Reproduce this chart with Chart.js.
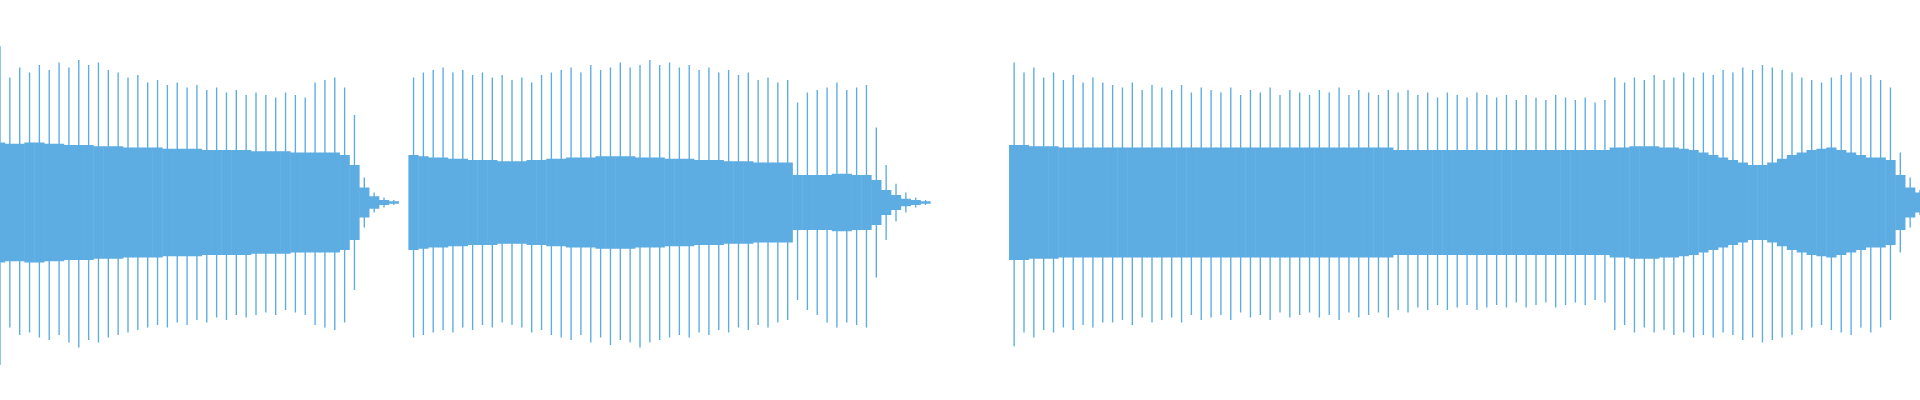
<!DOCTYPE html>
<html>
<head>
<meta charset="utf-8">
<script src="https://cdn.jsdelivr.net/npm/chart.js@4"></script>
<style>
  html, body { margin: 0; padding: 0; background: #fff; }
  #wrap { width: 1920px; height: 400px; }
</style>
</head>
<body>
<div id="wrap"><canvas id="wave"></canvas></div>
<script>
// waveform envelope, one column per slice, amplitudes around the centre line
const peakTop = [
  125,100,108,104,110,106,112,108,114,110,112,106,104,100,102,96,98,94,96,92,94,90,92,88,90,86,88,86,84,88,86,84,96,98,100,92,70,
  20,8,4,2, 0,
  100,104,106,108,104,106,102,104,100,102,98,100,96,102,104,106,108,104,110,106,108,112,108,110,114,110,112,108,110,106,108,104,106,102,104,98,100,96,
  98,80,88,90,92,96,90,92,94,
  60,30,15,8,4,2, 0,0,0,0,0,0,0, 0,
  112,104,108,100,104,98,102,96,100,96,
  94,92,96,90,94,92,90,94,88,92,90,88,92,86,90,88,92,86,90,88,86,90,88,92,86,90,88,86,90,
  88,90,86,88,84,88,86,84,88,86,84,86,82,86,84,82,86,84,82,84,80,82,
  100,96,100,98,102,98,100,104,100,104,102,106,104,108,106,110,108,106,104,100,98,96,100,102,104,100,102,98,92,
  40,20,10
];
const peakBottom = [
  130,100,106,104,108,110,106,112,116,110,112,108,106,104,102,100,98,100,96,98,94,96,92,94,90,92,90,88,90,86,88,90,98,100,102,96,70,
  20,8,4,2, 0,
  108,106,104,102,104,100,102,98,100,96,98,100,104,102,106,108,110,106,112,108,114,110,112,116,112,110,108,106,108,104,106,102,104,100,102,98,100,96,
  94,78,86,90,96,100,96,98,100,
  60,30,15,8,4,2, 0,0,0,0,0,0,0, 0,
  115,104,108,102,104,100,102,98,100,96,
  96,94,98,92,96,94,92,96,90,94,92,90,94,88,92,90,94,88,92,90,88,92,90,94,88,92,90,88,92,
  86,88,84,86,82,86,84,82,86,84,82,84,80,84,82,80,84,82,80,82,78,80,
  102,98,104,100,104,102,106,104,108,106,108,104,106,110,108,112,110,108,106,102,100,98,102,104,106,100,104,100,94,
  40,20,10
];
const coreAmp = [
  48,47,47,48,48,47,47,46,46,46,45,45,45,44,44,44,44,43,43,43,43,42,42,42,42,42,41,41,41,41,40,40,40,40,40,38,30,
  12,5,2,1, 0,
  38,37,36,36,35,35,34,34,34,33,33,33,34,34,35,35,36,36,36,37,37,37,37,36,36,36,35,35,35,34,34,34,33,33,33,32,32,32,
  32,22,22,22,22,23,23,22,22,
  18,10,6,3,2,1, 0,0,0,0,0,0,0, 0,
  46,46,45,45,45,44,44,44,44,44,
  44,44,44,44,44,44,44,44,44,44,44,44,44,44,44,44,44,44,44,44,44,44,44,44,44,44,44,44,44,
  42,42,42,42,42,42,42,42,42,42,42,42,42,42,42,42,42,42,42,42,42,42,
  44,44,45,45,45,44,44,43,42,40,38,36,34,32,30,30,32,35,38,40,42,43,44,42,40,38,36,36,34,
  22,12,8
];
const labels = peakTop.map((_, i) => i);

const colour = '#5dade2';

new Chart(document.getElementById('wave'), {
  type: 'bar',
  data: {
    labels,
    datasets: [
      {
        data: labels.map(i => [-(peakBottom[i] ?? 0), peakTop[i] ?? 0]),
        backgroundColor: colour,
        barPercentage: 0.14,
        categoryPercentage: 1,
        grouped: false
      },
      {
        data: labels.map(i => [-(coreAmp[i] ?? 0), coreAmp[i] ?? 0]),
        backgroundColor: colour,
        barPercentage: 1.05,
        categoryPercentage: 1,
        grouped: false
      }
    ]
  },
  options: {
    responsive: true,
    maintainAspectRatio: false,
    animation: false,
    layout: { padding: 0 },
    plugins: { legend: { display: false }, tooltip: { enabled: false } },
    scales: {
      x: { display: false, offset: false },
      y: { display: false, min: -158, max: 162 }
    }
  }
});
</script>
</body>
</html>
